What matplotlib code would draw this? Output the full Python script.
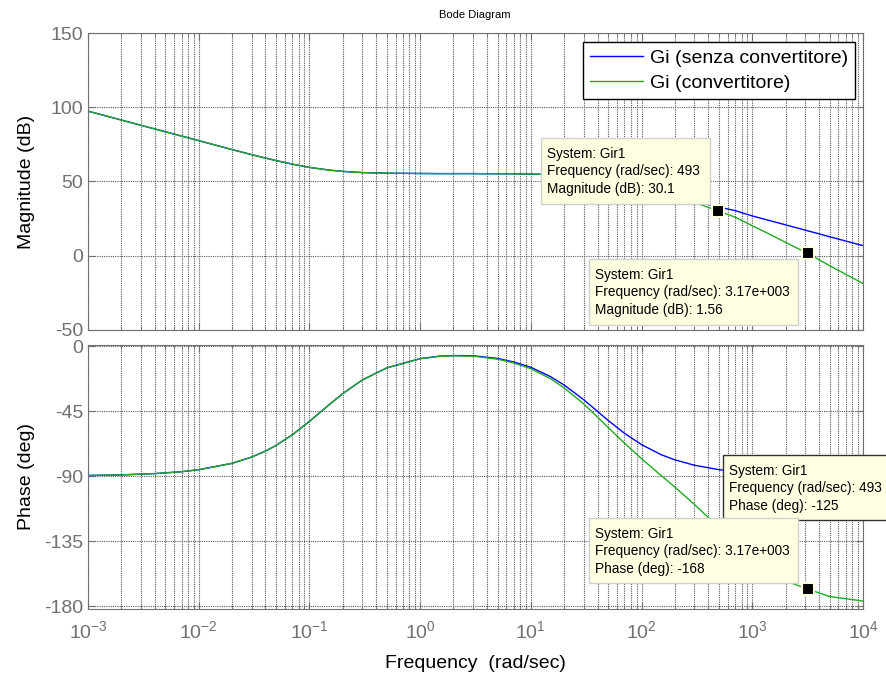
import matplotlib
matplotlib.use('Agg')
import matplotlib.pyplot as plt
from matplotlib.patches import Rectangle

plt.rcParams['font.family'] = ['Liberation Sans', 'DejaVu Sans']
plt.rcParams['mathtext.fontset'] = 'custom'
plt.rcParams['mathtext.rm'] = 'Liberation Sans'
plt.rcParams['mathtext.it'] = 'Liberation Sans:italic'
plt.rcParams['axes.unicode_minus'] = False

# frequency points (rad/sec) and values
freq = [1e-3, 2e-3, 4e-3, 7e-3, 1e-2, 2e-2, 3e-2, 4e-2, 5e-2, 7e-2, 0.1, 0.15, 0.2, 0.3, 0.5,
        1, 1.5, 2, 3, 5, 7, 10, 15, 20, 30, 40, 50, 70, 100, 150, 200, 300, 493, 700,
        1000, 1500, 2000, 3170, 5000, 1e4]

mag_senza = [97.4, 91.4, 85.4, 80.6, 77.5, 71.5, 68.1, 65.8, 64.1, 61.7, 59.5, 57.7, 56.8, 56.0, 55.6,
             55.4, 55.3, 55.3, 55.3, 55.2, 55.2, 55.0, 54.7, 54.2, 53.2, 52.0, 50.9, 48.8, 46.2, 43.0,
             40.6, 37.2, 32.9, 30.4, 26.8, 23.3, 20.8, 16.8, 12.8, 6.8]
mag_conv = [97.4, 91.4, 85.4, 80.6, 77.5, 71.5, 68.1, 65.8, 64.1, 61.7, 59.5, 57.7, 56.8, 56.0, 55.6,
            55.4, 55.3, 55.3, 55.3, 55.2, 55.2, 55.0, 54.7, 54.2, 53.2, 52.0, 50.9, 48.7, 46.1, 42.7,
            40.0, 36.0, 30.1, 26.0, 20.2, 13.8, 9.0, 1.56, -6.7, -18.7]

ph_senza = [-89.5, -89.1, -88.2, -86.9, -85.5, -81.1, -76.8, -72.7, -68.7, -61.4, -52.1, -40.7, -32.9,
            -23.5, -15.1, -8.7, -7.0, -6.6, -6.7, -8.6, -11.0, -14.7, -21.1, -27.0, -37.1, -45.2,
            -51.5, -60.3, -68.2, -75.1, -78.7, -82.4, -85.4, -86.7, -87.7, -88.5, -88.9, -89.3, -89.5, -89.8]
ph_conv = [-89.5, -89.1, -88.2, -86.9, -85.5, -81.1, -76.8, -72.7, -68.7, -61.4, -52.1, -40.7, -32.9,
           -23.5, -15.1, -8.8, -7.1, -6.8, -7.0, -9.1, -11.7, -15.7, -22.5, -29.0, -40.0, -49.1,
           -56.4, -67.1, -77.9, -89.5, -97.5, -109.5, -125, -136.7, -147.3, -157.1, -162.4, -168, -173.2, -176.3]

tip_freq = [493, 3170]
tip_mag = [30.1, 1.56]
tip_ph = [-125, -168]

decades = [1e-3, 1e-2, 1e-1, 1e0, 1e1, 1e2, 1e3, 1e4]

W, H = 887, 674
fx = lambda px: px / W
fy = lambda py: 1 - py / H

fig = plt.figure(figsize=(8.87, 6.74), dpi=100)
ax1 = fig.add_axes([fx(88), fy(330), fx(863) - fx(88), fy(33) - fy(330)])
ax2 = fig.add_axes([fx(88), fy(609), fx(863) - fx(88), fy(345) - fy(609)])

blue = '#0000ff'
green = '#1faa1f'
gray = '#707070'

ax1.semilogx(freq, mag_senza, color=blue, lw=1, label='Gi (senza convertitore)')
ax1.semilogx(freq, mag_conv, color=green, lw=1, label='Gi (convertitore)')
ax2.semilogx(freq, ph_senza, color=blue, lw=1)
ax2.semilogx(freq, ph_conv, color=green, lw=1)

ax1.set_ylim(-50, 150)
ax1.set_yticks([-50, 0, 50, 100, 150])
ax2.set_ylim(-181.8, 0.7)
ax2.set_yticks([-180, -135, -90, -45, 0])

for ax in (ax1, ax2):
    ax.set_xticks(decades)
    ax.set_xlim(1e-3, 1e4)
    ax.grid(True, which='major', color='#5a5a5a', linestyle=(0, (1, 1)), lw=0.8)
    ax.grid(True, which='minor', axis='x', color='#5a5a5a', linestyle=(0, (1, 1)), lw=0.8)
    ax.tick_params(which='both', direction='in', top=True, right=True, colors=gray,
                   labelsize=14, labelcolor=gray)
    ax.tick_params(which='major', length=5)
    ax.tick_params(which='minor', length=3)
    for s in ax.spines.values():
        s.set_color(gray)
ax1.tick_params(labelbottom=False)
ax2.tick_params(axis='x', pad=8)

ax1.set_ylabel('Magnitude (dB)', fontsize=14)
ax2.set_ylabel('Phase (deg)', fontsize=14)
ax1.yaxis.set_label_coords(-0.068, 0.5)
ax2.yaxis.set_label_coords(-0.068, 0.5)
ax2.set_xlabel('Frequency  (rad/sec)', fontsize=14, labelpad=9)
fig.text(fx(475), fy(15), 'Bode Diagram', fontsize=8, ha='center', va='center')

leg = ax1.legend(loc='upper right', bbox_to_anchor=(0.9897, 0.9697), fontsize=14,
                 fancybox=False, framealpha=1, edgecolor='black', handlelength=2.7,
                 borderaxespad=0, borderpad=0.38, labelspacing=0.38, handletextpad=0.35)
leg.get_frame().set_linewidth(1)

# data tip markers
ax1.plot(tip_freq, tip_mag, 's', color='black', ms=8, mec='#ffffe1', mew=1.5, zorder=5)
ax2.plot(tip_freq, tip_ph, 's', color='black', ms=8, mec='#ffffe1', mew=1.5, zorder=5)

# data tip boxes (left, top, right, bottom in pixels)
tips = [
    ((541, 138, 710, 204), 'System: Gir1\nFrequency (rad/sec): 493\nMagnitude (dB): 30.1', '#d0d0d0'),
    ((589, 259, 798, 325), 'System: Gir1\nFrequency (rad/sec): 3.17e+003\nMagnitude (dB): 1.56', '#d0d0d0'),
    ((723, 455, 900, 520), 'System: Gir1\nFrequency (rad/sec): 493\nPhase (deg): -125', '#303030'),
    ((589, 518, 798, 583), 'System: Gir1\nFrequency (rad/sec): 3.17e+003\nPhase (deg): -168', '#d0d0d0'),
]
for (l, t, r, b), txt, ec in tips:
    fig.add_artist(Rectangle((fx(l), fy(b)), fx(r) - fx(l), fy(t) - fy(b),
                             transform=fig.transFigure, facecolor='#ffffe1',
                             edgecolor=ec, lw=1, zorder=10))
    fig.text(fx(l + 6), fy(t + 9), txt, fontsize=9.8, va='top', ha='left',
             linespacing=1.3, zorder=11)

fig.savefig('out.png', dpi=100)
